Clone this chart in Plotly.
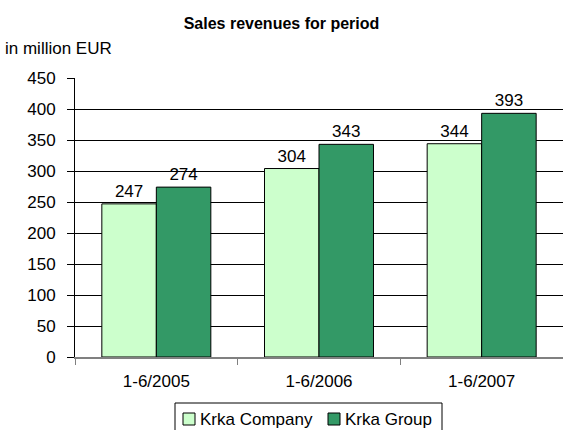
import plotly.graph_objects as go

periods = ['1-6/2005', '1-6/2006', '1-6/2007']
krka_company = [247, 304, 344]
krka_group = [274, 343, 393]
y_ticks = [0, 50, 100, 150, 200, 250, 300, 350, 400, 450]

series_names = ['Krka Company', 'Krka Group']
series_colors = ['#CCFFCC', '#339966']

font_family = 'Liberation Sans, Arial'

# plot area in pixels, used to place the hand-made legend box
L, R, T, B = 75, 563, 78, 357
W, H = R - L, B - T


def px_x(p):
    return (p - L) / W


def px_y(p):
    return (B - p) / H


fig = go.Figure()
for name, vals, col in zip(series_names, [krka_company, krka_group], series_colors):
    fig.add_trace(go.Bar(x=periods, y=vals, name=name,
                         marker=dict(color=col, line=dict(color='black', width=1)),
                         text=vals, textposition='outside', cliponaxis=False,
                         textfont=dict(size=17, color='black'), showlegend=False))

# legend: bordered box with two small squares, like the original
shapes = [dict(type='rect', xref='paper', yref='paper',
               x0=px_x(175), x1=px_x(442), y0=px_y(432), y1=px_y(403),
               line=dict(color='black', width=1), fillcolor='white')]
annotations = [dict(text='in million EUR', x=0, y=1, xref='paper', yref='paper',
                    xshift=-72, yshift=30, showarrow=False, xanchor='left',
                    yanchor='middle', font=dict(size=17))]
sq_left = [183, 328]
for name, col, sx in zip(series_names, series_colors, sq_left):
    shapes.append(dict(type='rect', xref='paper', yref='paper',
                       x0=px_x(sx), x1=px_x(sx + 12), y0=px_y(425), y1=px_y(413),
                       line=dict(color='black', width=1), fillcolor=col))
    annotations.append(dict(text=name, x=px_x(sx + 15), y=px_y(419), xref='paper',
                            yref='paper', showarrow=False, xanchor='left',
                            yanchor='middle', font=dict(size=17)))

fig.update_layout(
    width=563, height=430,
    margin=dict(l=L, r=563 - R, t=T, b=430 - B, autoexpand=False),
    paper_bgcolor='white', plot_bgcolor='white',
    font=dict(family=font_family, size=17, color='black'),
    barmode='group', bargap=0.33, bargroupgap=0,
    title=dict(text='<b>Sales revenues for period</b>', x=0.5, xanchor='center',
               y=0.945, yanchor='middle', font=dict(family='Liberation Sans', size=16)),
    showlegend=False,
    shapes=shapes,
    annotations=annotations,
)
fig.update_yaxes(range=[0, 450], tickvals=y_ticks, showgrid=True, gridcolor='black',
                 gridwidth=1, ticks='outside', ticklen=7, tickcolor='black',
                 ticklabelstandoff=8,
                 showline=True, linecolor='black', zeroline=False, automargin=False)
fig.update_xaxes(showline=True, linecolor='#808080', linewidth=2, ticks='outside',
                 tickson='boundaries', ticklen=6, tickcolor='#808080',
                 ticklabelstandoff=8, automargin=False)

# page has a default 8px body margin; drop it so the chart sits at the corner
fig.write_html('out.html', config={'displayModeBar': False},
               post_script="document.body.style.margin='0';")
